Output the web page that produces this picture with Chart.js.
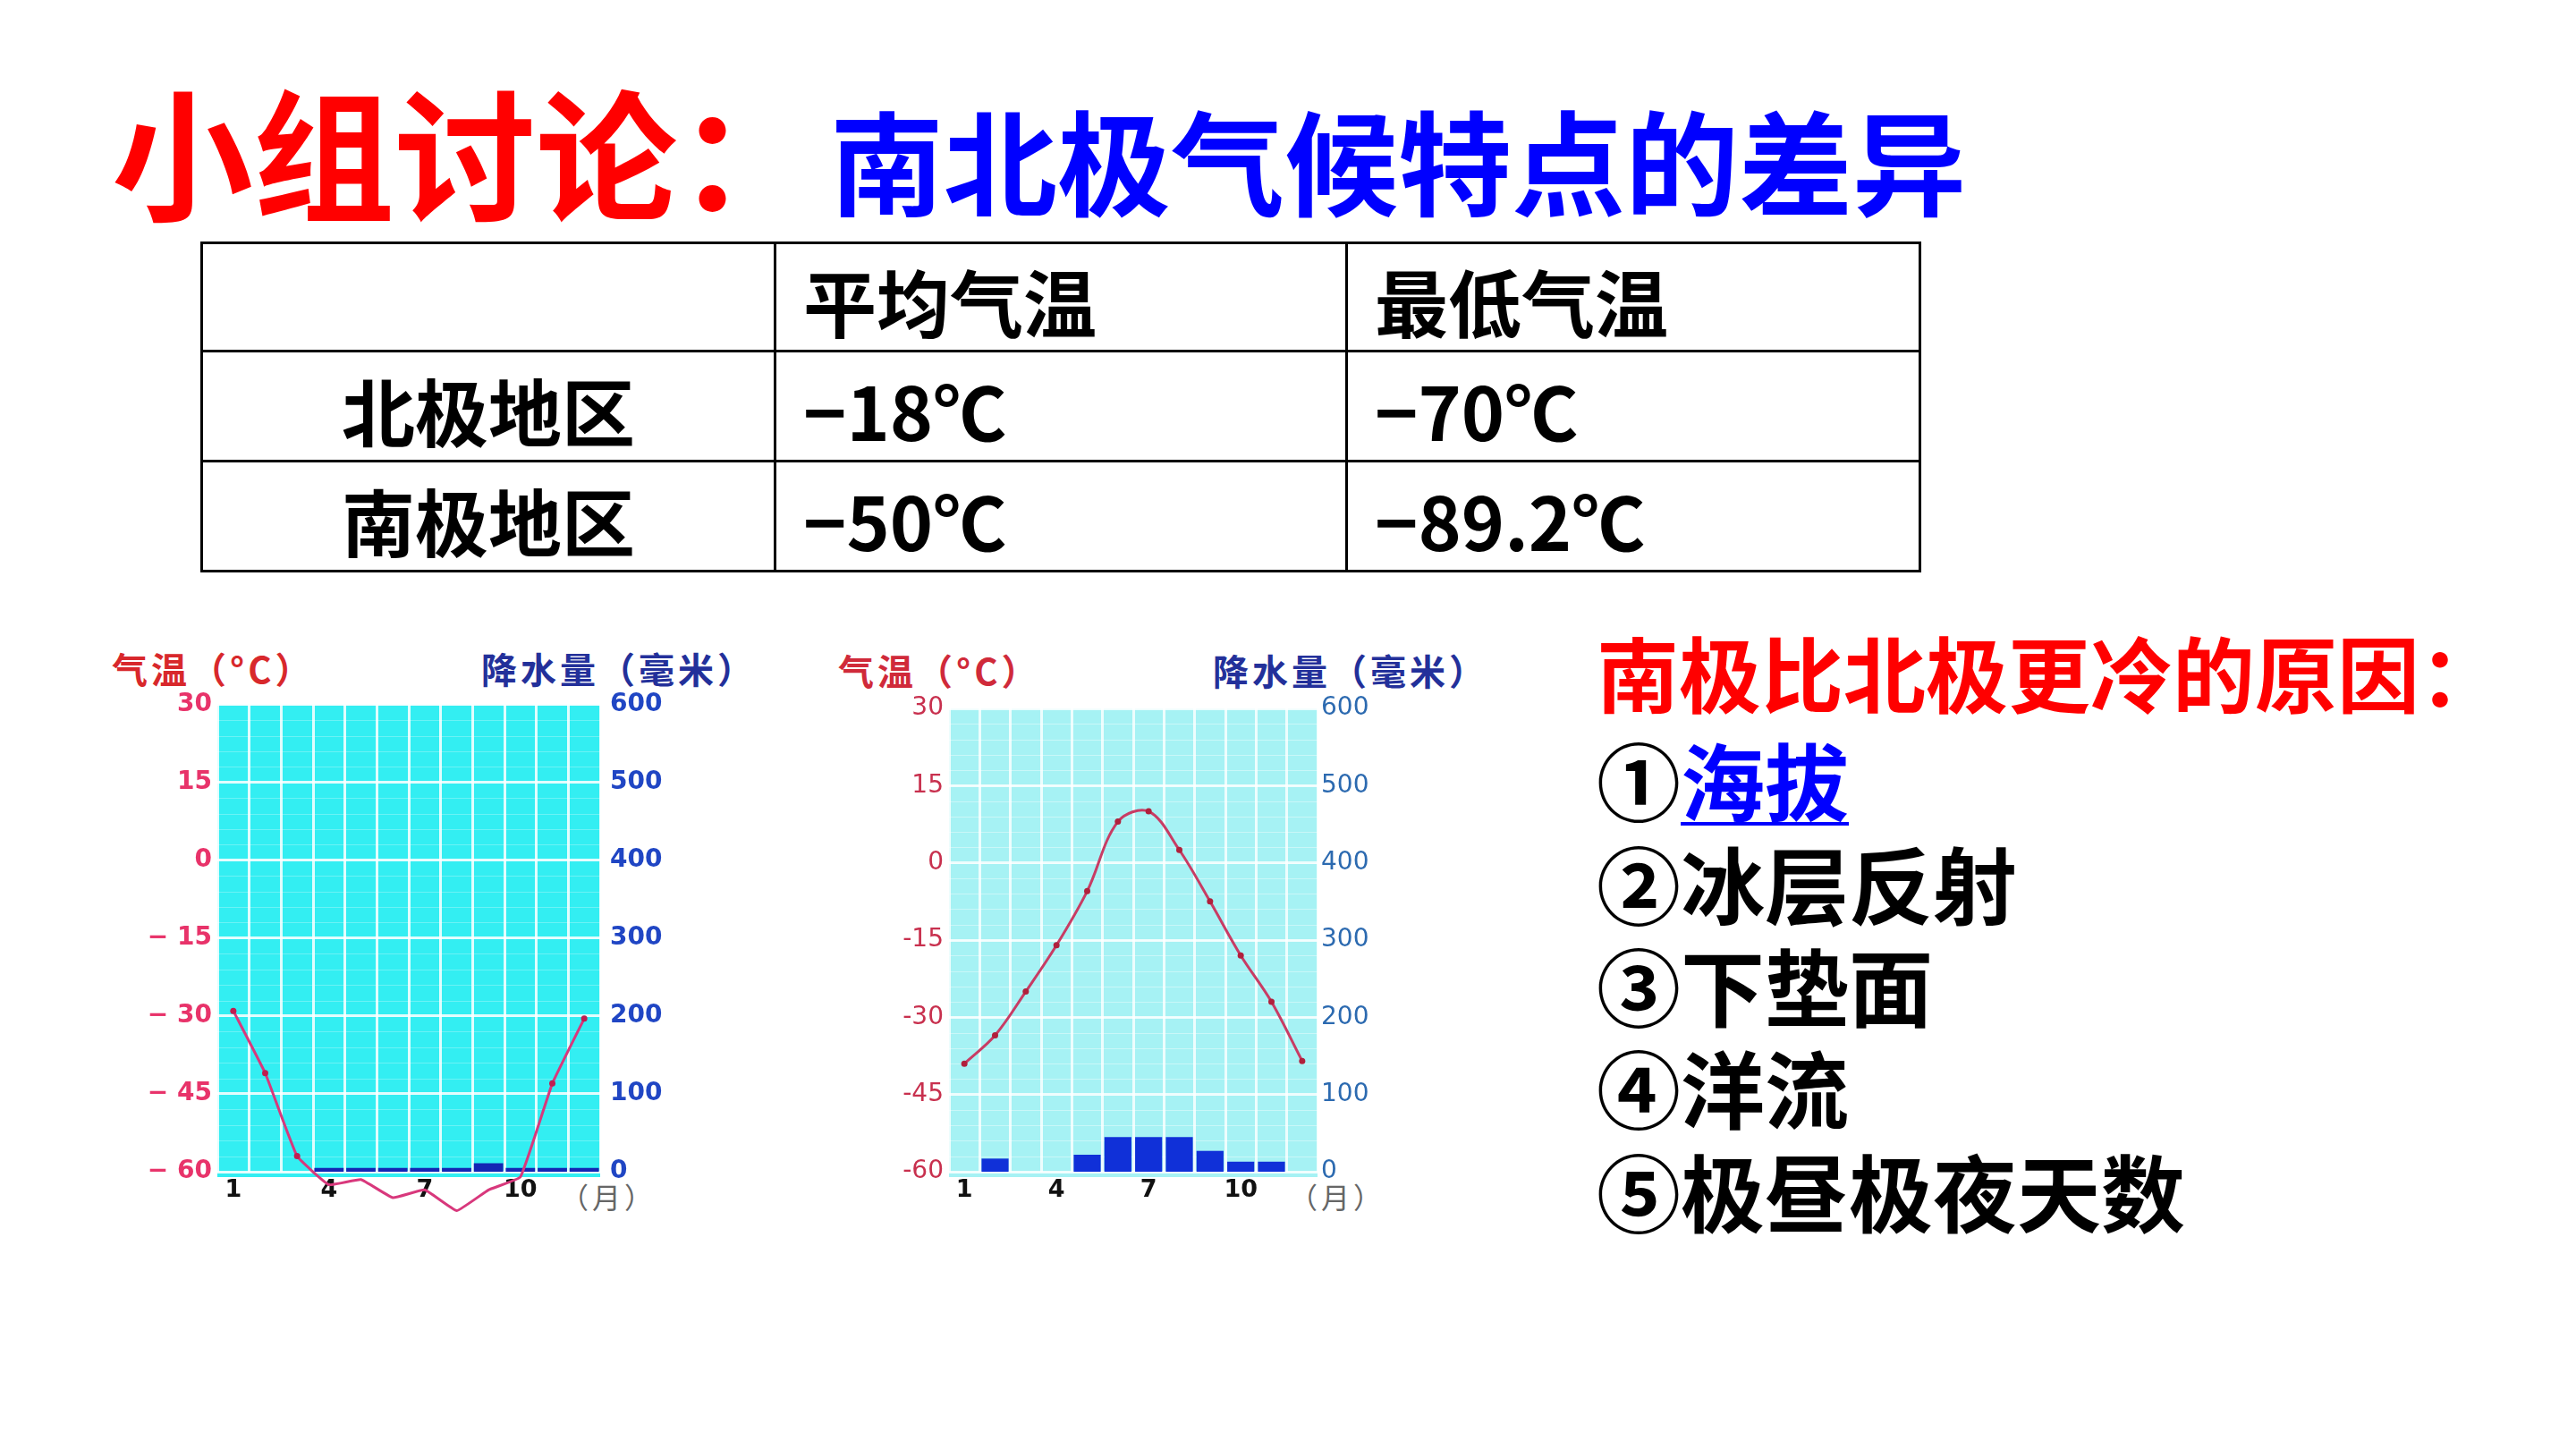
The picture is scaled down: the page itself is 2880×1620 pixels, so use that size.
<!DOCTYPE html>
<html><head><meta charset="utf-8">
<script src="https://cdn.jsdelivr.net/npm/chart.js@4/dist/chart.umd.min.js"></script>
<style>
html,body{margin:0;padding:0;background:#fff;}
body{width:2880px;height:1620px;position:relative;overflow:hidden;font-family:"Noto Sans CJK SC",sans-serif;}
.abs{position:absolute;white-space:nowrap;line-height:1;}
#t1{left:125px;top:88px;font-size:158px;font-weight:700;color:#ff0000;}
#t2{left:928px;top:114px;font-size:127px;font-weight:700;color:#0000ff;}
table{position:absolute;left:224px;top:270px;border-collapse:collapse;}
td{border:3px solid #000;font-size:82px;font-weight:700;color:#000;padding:8px 0 0 30px;line-height:1;vertical-align:middle;box-sizing:border-box;}
td.c{text-align:center;padding-left:0;}
.ax{font-size:40px;font-weight:700;letter-spacing:4px;}
.mon{font-size:32px;color:#666;letter-spacing:4px;}
#reason{left:1785px;top:704px;font-size:92px;font-weight:700;color:#ff0000;}
.it{left:1785px;font-size:94px;font-weight:700;color:#000;}
.link{color:#0000ff;text-decoration:underline;text-decoration-thickness:4px;text-underline-offset:8px;}
canvas{position:absolute;}
</style></head>
<body>
<div class="abs" id="t1">小组讨论：</div>
<div class="abs" id="t2">南北极气候特点的差异</div>
<table>
<tr style="height:121px"><td style="width:641px"></td><td style="width:639px">平均气温</td><td style="width:641px">最低气温</td></tr>
<tr style="height:123px"><td class="c">北极地区</td><td>−18℃</td><td>−70℃</td></tr>
<tr style="height:123px"><td class="c">南极地区</td><td>−50℃</td><td>−89.2℃</td></tr>
</table>

<div class="abs ax" style="left:125px;top:727px;color:#d8282c;">气温（°C）</div>
<div class="abs ax" style="left:538px;top:727px;color:#23309a;">降水量（毫米）</div>
<div class="abs ax" style="left:937px;top:729px;color:#d02a3a;">气温（°C）</div>
<div class="abs ax" style="left:1356px;top:729px;color:#23309a;">降水量（毫米）</div>
<div class="abs mon" style="left:626px;top:1321px;">（月）</div>
<div class="abs mon" style="left:1441px;top:1321px;">（月）</div>

<canvas id="c1" width="780" height="620" style="left:100px;top:760px;width:780px;height:620px;"></canvas>
<canvas id="c2" width="780" height="620" style="left:920px;top:760px;width:780px;height:620px;"></canvas>

<div class="abs" id="reason">南极比北极更冷的原因：</div>
<div class="abs it" style="top:823px;">①<span class="link">海拔</span></div>
<div class="abs it" style="top:939px;">②冰层反射</div>
<div class="abs it" style="top:1053px;">③下垫面</div>
<div class="abs it" style="top:1167px;">④洋流</div>
<div class="abs it" style="top:1283px;">⑤极昼极夜天数</div>

<script>
// ---- data ----
const months = ['1','2','3','4','5','6','7','8','9','10','11','12'];
const monthTicks = ['1','4','7','10'];
// left chart (南极)
const leftTemp = [-29, -41, -57, -62.5, -61.5, -65, -63.5, -67.5, -63.5, -61, -43, -30.5];
const leftPrecip = [0, 0, 0, 5, 5, 5, 5, 5, 11, 5, 5, 5];
// right chart (北极)
const rightTemp = [-39, -33.5, -25, -16, -5.5, 8, 10, 2.5, -7.5, -18, -27, -38.5];
const rightPrecip = [0, 17, 0, 0, 22, 45, 45, 45, 27, 13, 13, 0];
// axis ranges
const tempMin = -60, tempMax = 30, tempStep = 15;
const precMin = 0, precMax = 600, precStep = 100;

const bgPlugin = {
  id: 'plotBg',
  beforeDraw(chart, args, o) {
    const {ctx, chartArea: a} = chart;
    ctx.save();
    ctx.fillStyle = o.color;
    ctx.fillRect(a.left, a.top, a.right - a.left, a.bottom - a.top + o.extra);
    ctx.strokeStyle = o.minor;
    ctx.lineWidth = 1;
    const ys = chart.scales.y;
    for (let v = tempMin; v <= tempMax; v += o.minorStep) {
      const y = Math.round(ys.getPixelForValue(v)) + 0.5;
      ctx.beginPath(); ctx.moveTo(a.left, y); ctx.lineTo(a.right, y); ctx.stroke();
    }
    ctx.restore();
  }
};

function build(id, temps, precs, st) {
  return new Chart(document.getElementById(id), {
    type: 'bar',
    data: {
      labels: months,
      datasets: [
        {type: 'line', data: temps, yAxisID: 'y', borderColor: st.line, borderWidth: 3,
         pointRadius: 3.5, pointBackgroundColor: st.point, pointBorderWidth: 0,
         tension: st.tension, clip: false, order: 0},
        {type: 'bar', data: precs, yAxisID: 'y1', backgroundColor: st.bar,
         barPercentage: 1, categoryPercentage: st.cat, order: 1}
      ]
    },
    options: {
      responsive: false, animation: false, devicePixelRatio: 1,
      layout: {padding: {top: st.padTop, left: 0, right: 0, bottom: 0}},
      plugins: {legend: {display: false}, tooltip: {enabled: false},
        plotBg: {color: st.bg, minor: st.minor, minorStep: 3, extra: 6}},
      scales: {
        x: {
          grid: {color: st.gridX, lineWidth: 3, drawTicks: false},
          border: {display: false},
          ticks: {autoSkip: false, maxRotation: 0, padding: 5, color: '#111',
            font: {family: 'DejaVu Sans', size: 27, weight: 'bold'},
            callback: (v, i) => monthTicks.includes(months[i]) ? months[i] : ''},
          afterFit: s => { s.height = 70; }
        },
        y: {
          position: 'left', min: tempMin, max: tempMax,
          grid: {color: st.gridY, lineWidth: 3, drawTicks: false},
          border: {display: false},
          ticks: {stepSize: tempStep, padding: 6, color: st.tcol,
            font: {family: 'DejaVu Sans', size: 28, weight: st.tw},
            callback: v => v < 0 ? st.minus + Math.abs(v) : String(v)},
          afterFit: s => { s.width = st.yW; }
        },
        y1: {
          position: 'right', min: precMin, max: precMax,
          grid: {display: false, drawTicks: false},
          border: {display: false},
          ticks: {stepSize: precStep, padding: st.p1pad, color: st.pcol,
            font: {family: 'DejaVu Sans', size: 28, weight: st.tw}},
          afterFit: s => { s.width = st.y1W; }
        }
      }
    },
    plugins: [bgPlugin]
  });
}

build('c1', leftTemp, leftPrecip, {
  line: '#d8387c', point: '#c01e50', tension: 0.1, bar: '#1426b4', cat: 0.92,
  padTop: 24, bg: '#33eef2', minor: 'rgba(255,255,255,0.28)',
  gridX: 'rgba(255,255,255,0.85)', gridY: 'rgba(255,255,255,0.85)',
  tcol: '#e8336a', pcol: '#2046c4', tw: 'bold', minus: '− ', yW: 143, y1W: 209, p1pad: 11
});
build('c2', rightTemp, rightPrecip, {
  line: '#c83c64', point: '#b0203c', tension: 0.35, bar: '#1030d8', cat: 0.88,
  padTop: 32, bg: '#a6f2f4', minor: 'rgba(255,255,255,0.4)',
  gridX: 'rgba(255,255,255,0.8)', gridY: 'rgba(255,255,255,0.8)',
  tcol: '#c8304e', pcol: '#2c6ab0', tw: 'normal', minus: '-', yW: 141, y1W: 227, p1pad: 4
});
</script>
</body></html>
